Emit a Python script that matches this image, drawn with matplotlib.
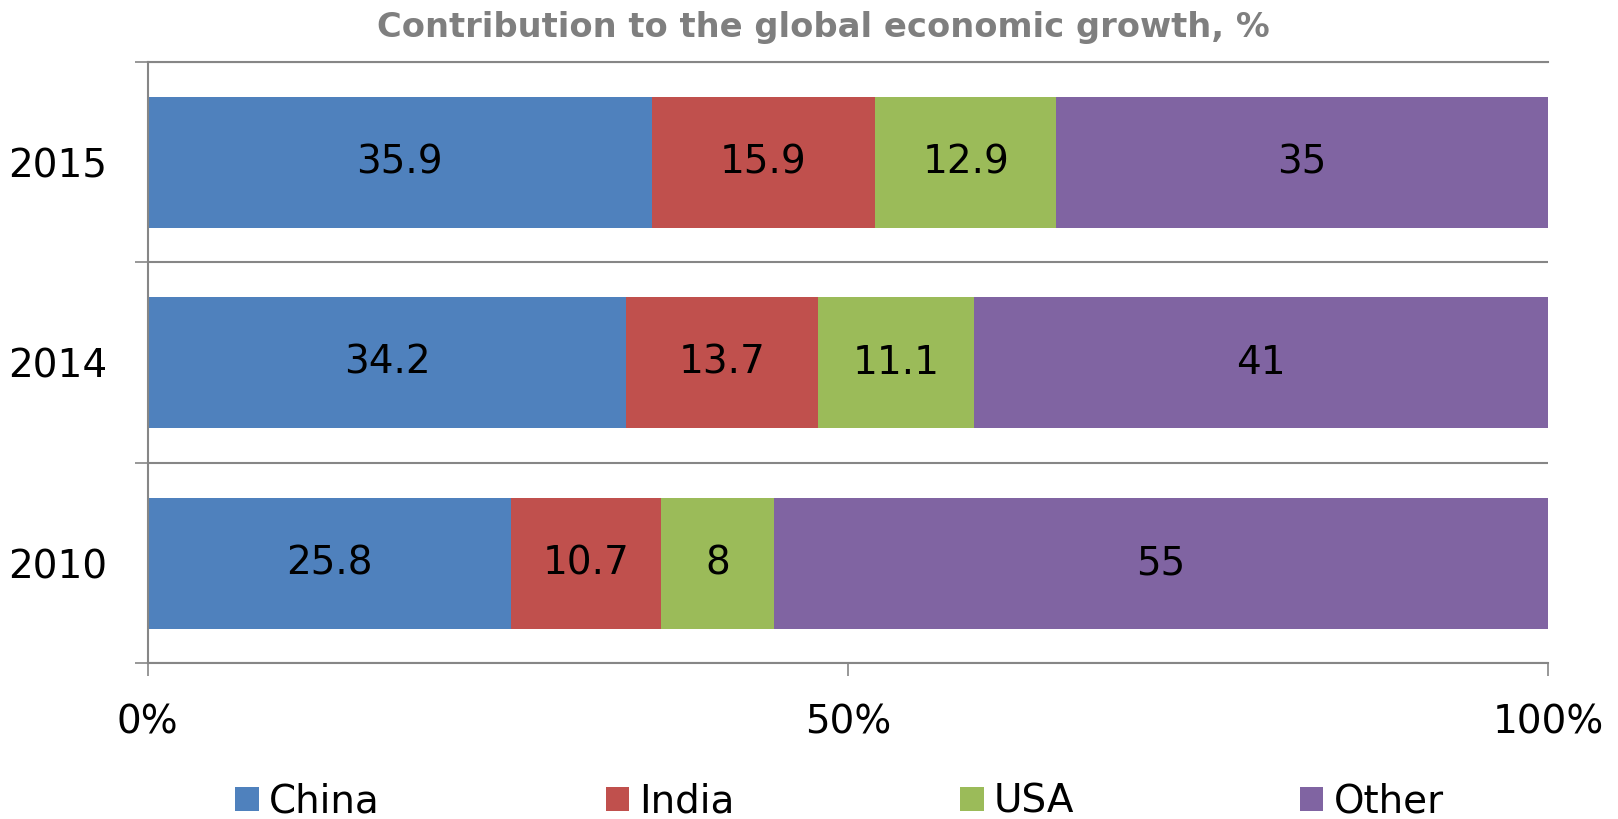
import numpy as np
import matplotlib.pyplot as plt
from matplotlib import ticker

years = ['2010', '2014', '2015']
series = ['China', 'India', 'USA', 'Other']
china = [25.8, 34.2, 35.9]
india = [10.7, 13.7, 15.9]
usa = [8, 11.1, 12.9]
other = [55, 41, 35]
colors = ['#4F81BD', '#C0504D', '#9BBB59', '#8064A2']

plt.rcParams['font.family'] = 'DejaVu Sans'
grey = '#868686'

fig = plt.figure(figsize=(16.18, 8.19), dpi=100)
ax = fig.add_axes([0.0912, 0.1899, 0.8655, 0.7344])

values = np.array([china, india, usa, other], dtype=float)
shares = values / values.sum(axis=0)  # 100% stacked
y = np.arange(len(years))
left = np.zeros(len(years))
for name, vals, share, color in zip(series, values, shares, colors):
    bars = ax.barh(y, share, left=left, height=0.655, color=color, label=name, linewidth=0)
    ax.bar_label(bars, labels=[f'{v:g}' for v in vals], label_type='center', fontsize=28)
    left += share

ax.set_xlim(0, 1)
ax.set_ylim(-0.5, 2.5)
ax.set_xticks([0, 0.5, 1])
ax.xaxis.set_major_formatter(ticker.PercentFormatter(1.0, decimals=0))
ax.set_yticks(y)
ax.set_yticklabels(years)
ax.set_yticks([-0.5, 0.5, 1.5, 2.5], minor=True)
ax.grid(axis='y', which='minor', color=grey, linewidth=1.5)
ax.tick_params(axis='y', which='major', length=0, pad=29, labelsize=28)
ax.tick_params(axis='y', which='minor', length=9.5, width=1.2, color=grey)
ax.tick_params(axis='x', length=9, width=1.2, color=grey, pad=20, labelsize=28)
for side in ['top', 'left', 'bottom']:
    ax.spines[side].set_color(grey)
    ax.spines[side].set_linewidth(1.5)
ax.spines['right'].set_visible(False)
ax.set_axisbelow(True)

fig.text(0.509, 0.966, 'Contribution to the global economic growth, %', ha='center', va='center',
         fontsize=24.3, fontweight='bold', color='#7F7F7F')

fig.legend(loc='center', bbox_to_anchor=(0.519, 0.021), ncol=4, frameon=False, fontsize=28,
           handlelength=0.6, handleheight=0.6, handletextpad=0.27, columnspacing=5.8, borderpad=0)

fig.savefig('out.png', dpi=100)
